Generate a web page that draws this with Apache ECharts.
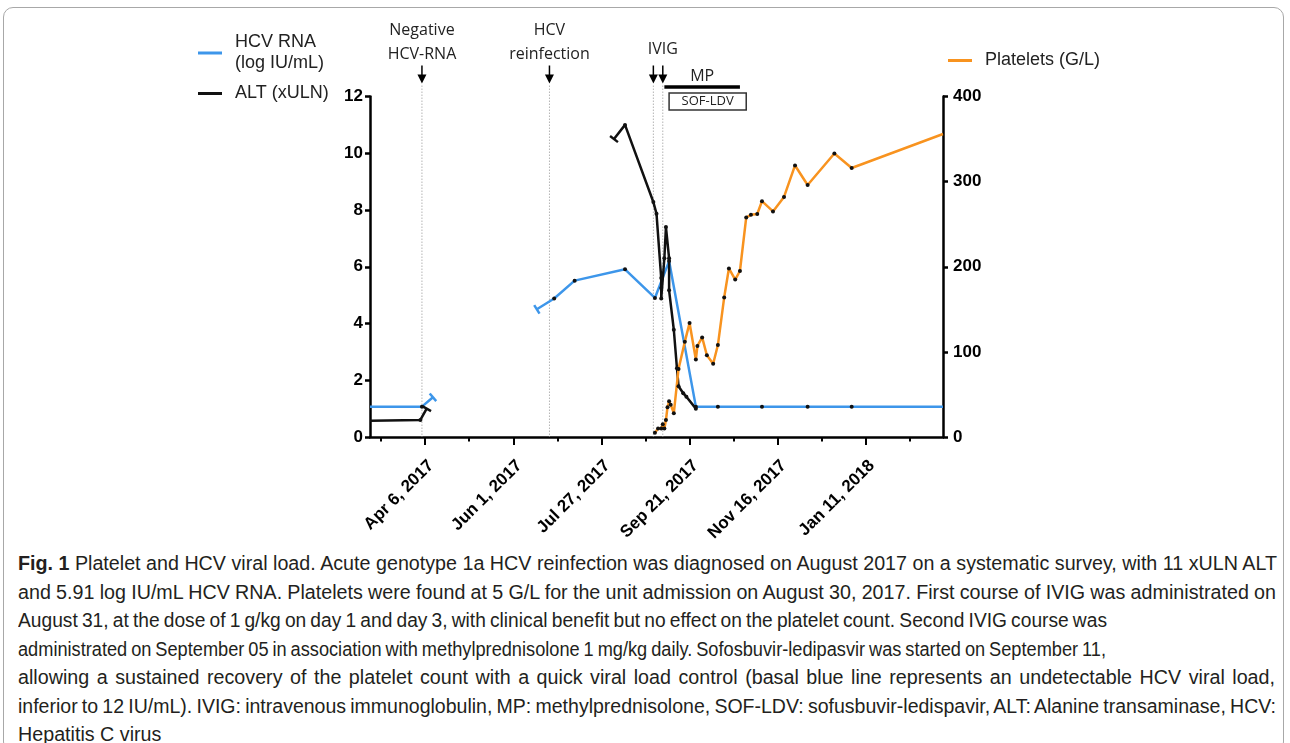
<!DOCTYPE html>
<html>
<head>
<meta charset="utf-8">
<script src="https://cdn.jsdelivr.net/npm/echarts@6/dist/echarts.min.js"></script>
<style>
  html, body { margin: 0; padding: 0; background: #fff; }
  #frame { position: absolute; left: 3px; top: 7px; width: 1281px; height: 745px; border: 1px solid #a8a8a8; border-radius: 10px; box-sizing: border-box; }
  #chart { position: absolute; left: 0; top: 0; width: 1290px; height: 545px; }
  #caption { position: absolute; left: 18px; top: 549px; font-size: 19.5px; color: #231f20;
    font-family: 'Liberation Sans Narrow', 'Liberation Sans', Arial, sans-serif; }
  #caption div { height: 28.5px; line-height: 28.5px; }
  #caption span { display: inline-block; white-space: nowrap; transform-origin: 0 50%; }
</style>
</head>
<body>
<div id="frame"></div>
<div id="chart"></div>
<div id="caption"></div>
<script>
// axis range and date ticks
const xMin = '2017-03-02';
const xMax = '2018-03-01';
const xTickDates = ['2017-04-06', '2017-06-01', '2017-07-27', '2017-09-21', '2017-11-16', '2018-01-11'];
const xTickLabels = ['Apr 6, 2017', 'Jun 1, 2017', 'Jul 27, 2017', 'Sep 21, 2017', 'Nov 16, 2017', 'Jan 11, 2018'];

// HCV RNA (log IU/mL) - null marks the break between follow-up periods
const hcvDates = ['2017-03-02', '2017-04-04', '2017-04-11', null,
  '2017-06-16', '2017-06-27', '2017-07-10', '2017-08-11', '2017-08-30', '2017-09-08',
  '2017-09-25', '2017-10-09', '2017-11-06', '2017-12-05', '2018-01-02', '2018-03-01'];
const hcvValues = [1.07, 1.07, 1.40, null,
  4.50, 4.88, 5.51, 5.91, 4.90, 6.20,
  1.07, 1.07, 1.07, 1.07, 1.07, 1.07];

// ALT (xULN)
const altDates = ['2017-03-02', '2017-04-03', '2017-04-07', null,
  '2017-08-04', '2017-08-11', '2017-08-29', '2017-08-31', '2017-09-03', '2017-09-03', '2017-09-03',
  '2017-09-05', '2017-09-06', '2017-09-08', '2017-09-08', '2017-09-11', '2017-09-13', '2017-09-14',
  '2017-09-17', '2017-09-19', '2017-09-25'];
const altValues = [0.57, 0.60, 1.00, null,
  10.5, 11.0, 8.28, 7.87, 5.6, 5.25, 4.88,
  6.3, 7.4, 6.3, 5.17, 3.78, 2.42, 1.79,
  1.54, 1.42, 1.00];

// Platelets (G/L)
const pltDates = ['2017-08-30', '2017-09-01', '2017-09-03', '2017-09-04', '2017-09-05', '2017-09-06',
  '2017-09-07', '2017-09-08', '2017-09-09', '2017-09-11', '2017-09-14', '2017-09-18', '2017-09-21',
  '2017-09-25', '2017-09-26', '2017-09-29', '2017-10-02', '2017-10-06', '2017-10-09', '2017-10-13',
  '2017-10-16', '2017-10-20', '2017-10-23', '2017-10-27', '2017-10-30', '2017-11-03', '2017-11-06',
  '2017-11-13', '2017-11-20', '2017-11-27', '2017-12-05', '2017-12-22', '2018-01-02', '2018-03-01'];
const pltValues = [5, 10, 10, 15, 10, 20,
  35, 42, 38, 28, 80, 112, 134,
  91, 107, 117, 96, 86, 108, 164,
  198, 185, 195, 258, 261, 262, 277,
  265, 282, 319, 296, 333, 316, 356];

// events (arrows + dotted lines) and treatments
const eventDates = ['2017-04-04', '2017-06-24', '2017-08-29', '2017-09-04'];
const eventLabels = ['Negative\nHCV-RNA', 'HCV\nreinfection', '', 'IVIG'];
const treatNames = ['MP', 'SOF-LDV'];
const treatStart = ['2017-09-05', '2017-09-08'];
const treatEnd = ['2017-10-23', '2017-10-27'];

const captionLines = [
  '<b>Fig. 1</b> Platelet and HCV viral load. Acute genotype 1a HCV reinfection was diagnosed on August 2017 on a systematic survey, with 11 xULN ALT',
  'and 5.91 log IU/mL HCV RNA. Platelets were found at 5 G/L for the unit admission on August 30, 2017. First course of IVIG was administrated on',
  'August 31, at the dose of 1 g/kg on day 1 and day 3, with clinical benefit but no effect on the platelet count. Second IVIG course was',
  'administrated on September 05 in association with methylprednisolone 1 mg/kg daily. Sofosbuvir-ledipasvir was started on September 11,',
  'allowing a sustained recovery of the platelet count with a quick viral load control (basal blue line represents an undetectable HCV viral load,',
  'inferior to 12 IU/mL). IVIG: intravenous immunoglobulin, MP: methylprednisolone, SOF-LDV: sofusbuvir-ledispavir, ALT: Alanine transaminase, HCV:',
  'Hepatitis C virus'
];
const captionRight = [1277, 1276, 1107, 1106, 1275, 1276, null];

const blue = '#3d96ea';
const orange = '#f8931f';
const black = '#111';
const axisFont = 'Liberation Sans';

function day(s) {
  return (Date.parse(s + 'T00:00:00Z') - Date.UTC(2017, 0, 1)) / 86400000;
}

const X0 = day(xMin), X1 = day(xMax);
const majorTicks = xTickDates.map(day);
const allTicks = majorTicks.map(d => d - 28).concat(majorTicks, [majorTicks[majorTicks.length - 1] + 28]).sort((a, b) => a - b);

function buildLine(dates, values, color) {
  return dates.map((d, i) => {
    if (d === null) return [day(dates[i - 1]) + 1, '-'];
    const x = day(d);
    const item = { value: [x, values[i]] };
    if (dates[i + 1] === null || (i > 0 && dates[i - 1] === null)) {
      item.symbol = 'rect';
      item.symbolSize = [2.5, 10];
      item.itemStyle = { color: color };
      item.cap = i > 0 && dates[i - 1] === null ? i + 1 : i - 1; // neighbour index
    }
    if (x === X0 || x === X1) item.symbol = 'none';
    return item;
  });
}

const hcvData = buildLine(hcvDates, hcvValues, blue);
const altData = buildLine(altDates, altValues, black);
const pltData = buildLine(pltDates, pltValues, orange);

const chart = echarts.init(document.getElementById('chart'));

const labelStyle = { fontFamily: axisFont, fontWeight: 'bold', fontSize: 17, color: '#000' };
const legendText = { fontFamily: axisFont, fontSize: 18, color: '#222', lineHeight: 21, padding: [0, 0, 0, 8] };

function lineSeries(name, data, color, yAxisIndex) {
  return {
    name: name,
    type: 'line',
    yAxisIndex: yAxisIndex,
    data: data,
    symbol: 'circle',
    symbolSize: 4,
    showAllSymbol: true,
    itemStyle: { color: '#111' },
    lineStyle: { color: color, width: 2.5 },
    emphasis: { disabled: true },
    z: 3
  };
}

const option = {
  animation: false,
  grid: { left: 370, right: 347, top: 96.5, bottom: 108 },
  legend: [
    {
      data: [{ name: 'HCV RNA\n(log IU/mL)', itemStyle: { color: blue } }],
      left: 198, top: 32, padding: 0, icon: 'rect', itemWidth: 24, itemHeight: 3,
      selectedMode: false, textStyle: legendText
    },
    {
      data: [{ name: 'ALT (xULN)', itemStyle: { color: black } }],
      left: 198, top: 83, padding: 0, icon: 'rect', itemWidth: 24, itemHeight: 3,
      selectedMode: false, textStyle: legendText
    },
    {
      data: [{ name: 'Platelets (G/L)', itemStyle: { color: orange } }],
      left: 948, top: 50, padding: 0, icon: 'rect', itemWidth: 24, itemHeight: 3,
      selectedMode: false, textStyle: legendText
    }
  ],
  xAxis: [
    {
      type: 'value', min: X0, max: X1,
      axisLine: { lineStyle: { color: '#000', width: 2.5 } },
      axisTick: { customValues: allTicks, length: 4.5, lineStyle: { color: '#000', width: 2 } },
      axisLabel: Object.assign({
        customValues: majorTicks,
        formatter: v => xTickLabels[majorTicks.indexOf(v)],
        rotate: 45, align: 'right', verticalAlign: 'top', margin: 20
      }, labelStyle),
      splitLine: { show: false }
    },
    {
      type: 'value', min: X0, max: X1, position: 'bottom',
      axisLine: { show: false },
      axisTick: { customValues: majorTicks, length: 8, lineStyle: { color: '#000', width: 2 } },
      axisLabel: { show: false },
      splitLine: { show: false }
    }
  ],
  yAxis: [
    {
      type: 'value', min: 0, max: 12, interval: 2,
      axisLine: { show: true, lineStyle: { color: '#000', width: 2.5 } },
      axisTick: { show: true, length: 5, lineStyle: { color: '#000', width: 2.5 } },
      axisLabel: Object.assign({ margin: 7 }, labelStyle),
      splitLine: { show: false }
    },
    {
      type: 'value', min: 0, max: 400, interval: 100, position: 'right',
      axisLine: { show: true, lineStyle: { color: '#000', width: 2.5 } },
      axisTick: { show: true, length: 5, lineStyle: { color: '#000', width: 2.5 } },
      axisLabel: Object.assign({ margin: 10 }, labelStyle),
      splitLine: { show: false }
    }
  ],
  series: [
    {
      type: 'custom',
      name: 'events',
      xAxisIndex: 0, yAxisIndex: 0,
      data: eventDates.map(d => [day(d), 0]),
      clip: false, silent: true, z: 1,
      renderItem: function (params, api) {
        const p = api.coord([api.value(0), 0]);
        const x = p[0];
        const top = params.coordSys.y;
        const label = eventLabels[params.dataIndex];
        const children = [
          { type: 'line', shape: { x1: x, y1: top - 11, x2: x, y2: p[1] },
            style: { stroke: '#b4b4b4', lineWidth: 1, lineDash: [1.5, 1.5] } },
          { type: 'line', shape: { x1: x, y1: top - 31, x2: x, y2: top - 20 },
            style: { stroke: '#000', lineWidth: 1.5 } },
          { type: 'polygon', shape: { points: [[x - 4.5, top - 22], [x + 4.5, top - 22], [x, top - 13]] },
            style: { fill: '#000' } }
        ];
        if (label) {
          children.push({ type: 'text', style: {
            text: label, x: x, y: top - (label.indexOf('\n') >= 0 ? 30 : 35),
            align: 'center', verticalAlign: 'bottom', lineHeight: 24,
            font: '16px "Open Sans"', fill: '#222' } });
        }
        return { type: 'group', children: children };
      }
    },
    {
      type: 'custom',
      name: 'treatments',
      xAxisIndex: 0, yAxisIndex: 0,
      encode: { x: [0, 1] },
      data: treatStart.map((s, i) => [day(s), day(treatEnd[i])]),
      clip: false, silent: true, z: 4,
      renderItem: function (params, api) {
        const x1 = api.coord([api.value(0), 0])[0];
        const x2 = api.coord([api.value(1), 0])[0];
        const top = params.coordSys.y;
        const name = treatNames[params.dataIndex];
        if (params.dataIndex === 0) {
          return { type: 'group', children: [
            { type: 'line', shape: { x1: x1, y1: top - 9.5, x2: x2, y2: top - 9.5 },
              style: { stroke: '#000', lineWidth: 3.5 } },
            { type: 'text', style: { text: name, x: (x1 + x2) / 2, y: top - 20,
              align: 'center', verticalAlign: 'middle', font: '16px "Open Sans"', fill: '#222' } }
          ] };
        }
        return { type: 'group', children: [
          { type: 'rect', shape: { x: x1, y: top - 3.5, width: x2 - x1, height: 17 },
            style: { stroke: '#333', lineWidth: 1.5, fill: '#fff' } },
          { type: 'text', style: { text: name, x: (x1 + x2) / 2, y: top + 5,
            align: 'center', verticalAlign: 'middle', font: '13px "Open Sans"', fill: '#222' } }
        ] };
      }
    },
    lineSeries('HCV RNA\n(log IU/mL)', hcvData, blue, 0),
    lineSeries('ALT (xULN)', altData, black, 0),
    lineSeries('Platelets (G/L)', pltData, orange, 1)
  ]
};

chart.setOption(option);

// rotate the end caps so they sit across the line
function rotateCaps(data, yAxisIndex) {
  data.forEach(item => {
    if (!item || item.cap === undefined) return;
    const nb = data[item.cap];
    const a = chart.convertToPixel({ xAxisIndex: 0, yAxisIndex: yAxisIndex }, item.value);
    const b = chart.convertToPixel({ xAxisIndex: 0, yAxisIndex: yAxisIndex }, nb.value);
    item.symbolRotate = Math.atan2(-(b[1] - a[1]), b[0] - a[0]) * 180 / Math.PI;
  });
}
rotateCaps(hcvData, 0);
rotateCaps(altData, 0);
chart.setOption({ series: [{}, {}, { data: hcvData }, { data: altData }, {}] });

// caption: shared horizontal scale from line 1, then a little word spacing
// and a small extra scale so each line ends where it does in the figure
const cap = document.getElementById('caption');
const spans = captionLines.map(t => {
  const row = document.createElement('div');
  const span = document.createElement('span');
  span.innerHTML = t;
  row.appendChild(span);
  cap.appendChild(row);
  return span;
});
const scale = (captionRight[0] - 18) / spans[0].getBoundingClientRect().width;
spans.forEach((span, i) => {
  span.style.transform = 'scaleX(' + scale + ')';
  if (i === 0 || captionRight[i] === null) return;
  const target = captionRight[i] - 18;
  const gaps = (span.textContent.match(/ /g) || []).length;
  const diff = (target - span.getBoundingClientRect().width) / scale;
  const ws = Math.max(-1.2, Math.min(3, diff / gaps));
  span.style.wordSpacing = ws + 'px';
  const w = span.getBoundingClientRect().width;
  span.style.transform = 'scaleX(' + (scale * target / w) + ')';
});
</script>
</body>
</html>
